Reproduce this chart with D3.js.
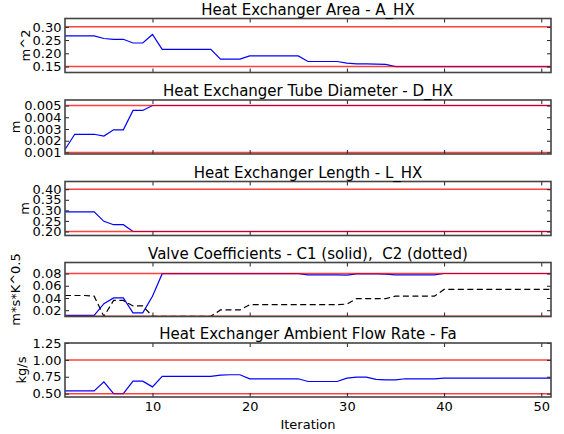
<!DOCTYPE html>
<html>
<head>
<meta charset="utf-8">
<script src="https://cdn.jsdelivr.net/npm/d3@7"></script>
<style>
body { margin: 0; background: #fff; }
text { font-family: "DejaVu Sans", sans-serif; fill: #000; white-space: pre; }
</style>
</head>
<body>
<svg width="564" height="434"></svg>
<script>
var iterations = d3.range(1, 52);

var areaHX = [0.266, 0.266, 0.266, 0.266, 0.256, 0.253, 0.253, 0.239, 0.239, 0.271,
  0.215, 0.215, 0.215, 0.215, 0.215, 0.215, 0.178, 0.178, 0.178,
  0.19, 0.19, 0.19, 0.19, 0.19, 0.19, 0.169, 0.169, 0.169, 0.169,
  0.163, 0.160, 0.160, 0.159, 0.158,
  0.15, 0.15, 0.15, 0.15, 0.15, 0.15, 0.15, 0.15, 0.15, 0.15, 0.15, 0.15, 0.15, 0.15, 0.15, 0.15, 0.15];

var diamHX = [0.00125, 0.00255, 0.00255, 0.00255, 0.0024, 0.00293, 0.00293, 0.00458, 0.00458,
  0.005, 0.005, 0.005, 0.005, 0.005, 0.005, 0.005, 0.005, 0.005, 0.005, 0.005, 0.005, 0.005, 0.005,
  0.005, 0.005, 0.005, 0.005, 0.005, 0.005, 0.005, 0.005, 0.005, 0.005, 0.005, 0.005, 0.005, 0.005,
  0.005, 0.005, 0.005, 0.005, 0.005, 0.005, 0.005, 0.005, 0.005, 0.005, 0.005, 0.005, 0.005, 0.005];

var lenHX = [0.293, 0.293, 0.293, 0.293, 0.248, 0.232, 0.232,
  0.2, 0.2, 0.2, 0.2, 0.2, 0.2, 0.2, 0.2, 0.2, 0.2, 0.2, 0.2, 0.2, 0.2, 0.2, 0.2, 0.2, 0.2, 0.2, 0.2,
  0.2, 0.2, 0.2, 0.2, 0.2, 0.2, 0.2, 0.2, 0.2, 0.2, 0.2, 0.2, 0.2, 0.2, 0.2, 0.2, 0.2, 0.2, 0.2, 0.2,
  0.2, 0.2, 0.2, 0.2];

var valveC1 = [0.0117, 0.0117, 0.0117, 0.0117, 0.0306, 0.04, 0.04, 0.0156, 0.0156, 0.0428,
  0.0797, 0.0797, 0.0797, 0.0797, 0.0797, 0.0797, 0.0797, 0.0797, 0.0797, 0.0797, 0.0797, 0.0797, 0.0797, 0.0797, 0.0797,
  0.0778, 0.0778, 0.0778, 0.0778, 0.0775, 0.0795, 0.0795, 0.0795, 0.079,
  0.0778, 0.0778, 0.0778, 0.0778, 0.0778,
  0.08, 0.08, 0.08, 0.08, 0.08, 0.08, 0.08, 0.08, 0.08, 0.08, 0.08, 0.08];

var valveC2 = [0.044, 0.044, 0.044, 0.043, 0.01, 0.036, 0.036, 0.027, 0.027,
  0.01, 0.01, 0.01, 0.01, 0.01, 0.01, 0.01, 0.0205, 0.0205, 0.0205,
  0.029, 0.029, 0.029, 0.029, 0.029, 0.029, 0.029, 0.029, 0.029, 0.029, 0.03,
  0.039, 0.039, 0.039, 0.039, 0.043, 0.043, 0.043, 0.043, 0.043,
  0.054, 0.054, 0.054, 0.054, 0.054, 0.054, 0.054, 0.054, 0.054, 0.054, 0.054, 0.054];

var flowFa = [0.54, 0.54, 0.54, 0.54, 0.675, 0.5, 0.5, 0.685, 0.685, 0.6,
  0.755, 0.755, 0.755, 0.755, 0.755, 0.755, 0.775, 0.78, 0.78,
  0.72, 0.72, 0.72, 0.72, 0.72, 0.72, 0.68, 0.68, 0.68, 0.68,
  0.73, 0.745, 0.745, 0.71, 0.705, 0.705, 0.72, 0.72, 0.72, 0.72,
  0.73, 0.73, 0.73, 0.73, 0.73, 0.73, 0.73, 0.73, 0.73, 0.73, 0.73, 0.73];

var titles = ["Heat Exchanger Area - A_HX", "Heat Exchanger Tube Diameter - D_HX",
  "Heat Exchanger Length - L_HX", "Valve Coefficients - C1 (solid),  C2 (dotted)",
  "Heat Exchanger Ambient Flow Rate - Fa"];
var yLabels = ["m^2", "m", "m", "m*s*K^0.5", "kg/s"];
var yTicks = [[0.15, 0.20, 0.25, 0.30], [0.001, 0.002, 0.003, 0.004, 0.005],
  [0.20, 0.25, 0.30, 0.35, 0.40], [0.02, 0.04, 0.06, 0.08], [0.50, 0.75, 1.00, 1.25]];
var yFormats = [".2f", ".3f", ".2f", ".2f", ".2f"];
var yDomains = [[0.1275, 0.3315], [0.00087, 0.00547], [0.181, 0.4365], [0.0097, 0.098], [0.45, 1.25]];
var lowerBounds = [0.15, 0.001, 0.2, 0.01, 0.5];
var upperBounds = [0.30, 0.005, 0.4, 0.08, 1.0];
var xTicks = [10, 20, 30, 40, 50];

var panelSeries = [[areaHX], [diamHX], [lenHX], [valveC1, valveC2], [flowFa]];

var svg = d3.select("svg");
var left = 65, right = 551, ph = 54;
var tops = [18.5, 100, 181.5, 262.5, 343];
var labelX = [30, 20, 28.5, 20, 26];

var x = d3.scaleLinear().domain([1, 51]).range([left, right]);

titles.forEach(function(title, p) {
  var top = tops[p], bottom = top + ph;
  var y = d3.scaleLinear().domain(yDomains[p]).range([bottom, top]);
  var g = svg.append("g");

  var clipId = "clip" + p;
  svg.append("clipPath").attr("id", clipId)
    .append("rect").attr("x", left).attr("y", top)
    .attr("width", right - left).attr("height", ph);

  var line = d3.line()
      .x(function(d, i) { return x(iterations[i]); })
      .y(function(d) { return y(d); });

  panelSeries[p].forEach(function(s, k) {
    g.append("path")
      .datum(s)
      .attr("clip-path", "url(#" + clipId + ")")
      .attr("fill", "none")
      .attr("stroke", k == 0 ? "#0000ff" : "#000")
      .attr("stroke-width", 1.2)
      .attr("stroke-dasharray", k == 0 ? null : "6,3.5")
      .attr("d", line);
  });

  // bounds
  [lowerBounds[p], upperBounds[p]].forEach(function(b) {
    g.append("line")
      .attr("x1", left).attr("x2", right)
      .attr("y1", y(b)).attr("y2", y(b))
      .attr("stroke", "red")
      .attr("stroke-opacity", 0.75)
      .attr("stroke-width", 1.5);
  });

  // axes, ticks pointing in
  var ax = function(a) {
    a.select(".domain").remove();
    a.selectAll("line").attr("stroke", "#222");
    a.selectAll("text").style("font-size", "13px").attr("fill", "#000");
  };
  g.append("g").attr("transform", "translate(" + left + ",0)")
    .call(d3.axisLeft(y).tickValues(yTicks[p]).tickFormat(d3.format(yFormats[p]))
      .tickSize(-4).tickPadding(3.5))
    .call(ax);
  g.append("g").attr("transform", "translate(" + right + ",0)")
    .call(d3.axisRight(y).tickValues(yTicks[p]).tickFormat("").tickSize(-4))
    .call(ax);
  g.append("g").attr("transform", "translate(0," + top + ")")
    .call(d3.axisTop(x).tickValues(xTicks).tickFormat("").tickSize(-4))
    .call(ax);
  g.append("g").attr("transform", "translate(0," + bottom + ")")
    .call(d3.axisBottom(x).tickValues(xTicks)
      .tickFormat(p == 4 ? d3.format("d") : "").tickSize(-4).tickPadding(5))
    .call(ax);

  g.append("rect")
    .attr("x", left).attr("y", top)
    .attr("width", right - left).attr("height", ph)
    .attr("fill", "none").attr("stroke", "#444").attr("stroke-width", 1.6);

  g.append("text")
    .attr("x", (left + right) / 2).attr("y", top - 4)
    .attr("text-anchor", "middle")
    .style("font-size", "15px")
    .text(title);

  g.append("text")
    .attr("transform", "translate(" + labelX[p] + "," + (top + ph / 2) + ") rotate(-90)")
    .attr("text-anchor", "middle")
    .style("font-size", "13px")
    .text(yLabels[p]);
});

svg.append("text")
  .attr("x", (left + right) / 2).attr("y", 429)
  .attr("text-anchor", "middle")
  .style("font-size", "13px")
  .text("Iteration");
</script>
</body>
</html>
